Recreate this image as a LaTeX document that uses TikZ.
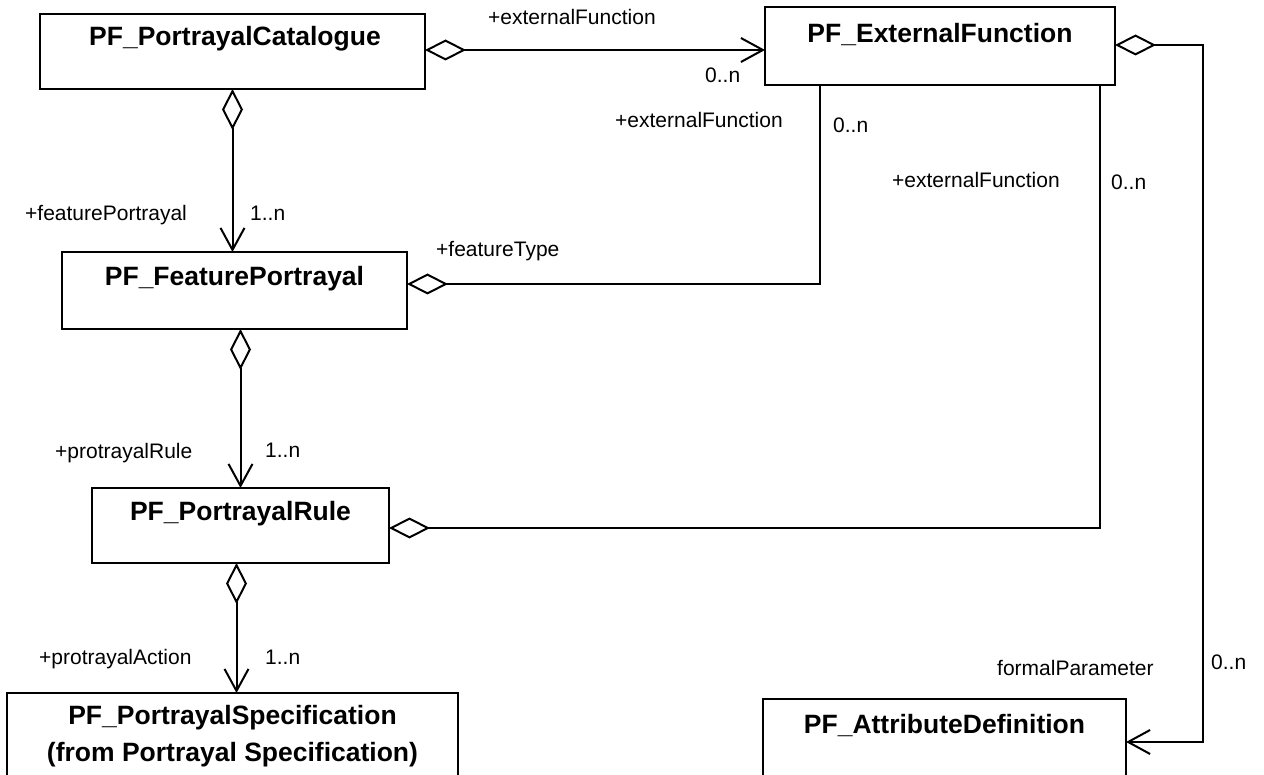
\documentclass[tikz,border=0pt]{standalone}
\usepackage{fontspec}
\setmainfont{Liberation Sans}
\usetikzlibrary{arrows.meta}
\begin{document}
\begin{tikzpicture}[x=1pt,y=-1pt,
  cls/.style={draw=black, line width=2.2pt, anchor=north west, inner sep=0pt, outer sep=0pt},
  ttl/.style={inner sep=0pt, text height=19pt, text depth=0pt, font=\bfseries\fontsize{26.5}{30}\selectfont},
  lbl/.style={inner sep=0pt, anchor=west, text height=15pt, text depth=0pt, font=\fontsize{21}{25}\selectfont},
  agg/.style={line width=2pt, {Diamond[open,fill=white,length=41pt,width=21pt]}-},
  assoc/.style={line width=2pt, {Diamond[open,fill=white,length=41pt,width=21pt]}-{Straight Barb[length=22pt,width=24pt]}}
]
\path[use as bounding box, fill=white] (0,0) rectangle (1264,775);
\clip (0,0) rectangle (1264,775);

% classes
\node[cls, minimum width=385pt, minimum height=75pt] (cat) at (40,14) {};
\node[cls, minimum width=350pt, minimum height=78pt] (ext) at (765,7) {};
\node[cls, minimum width=345pt, minimum height=77pt] (fp) at (62,252) {};
\node[cls, minimum width=297pt, minimum height=75pt] (pr) at (92,488) {};
\node[cls, minimum width=451pt, minimum height=120pt] (spec) at (7,693) {};
\node[cls, minimum width=363pt, minimum height=86pt] (attr) at (763,699) {};

% titles
\node[ttl] (cat-t) at (235,36) {PF\_PortrayalCatalogue};
\node[ttl] (ext-t) at (940,33) {PF\_ExternalFunction};
\node[ttl] (fp-t) at (234.5,276) {PF\_FeaturePortrayal};
\node[ttl] (pr-t) at (240.5,511) {PF\_PortrayalRule};
\node[ttl] (spec-t1) at (232.5,715) {PF\_PortrayalSpecification};
\node[ttl] (spec-t2) at (232.5,752) {(from Portrayal Specification)};
\node[ttl] (attr-t) at (944.5,724) {PF\_AttributeDefinition};

% connectors
\draw[assoc] ([yshift=1.5pt]cat.east) -- ([yshift=1.5pt]cat.east -| ext.west);
\draw[assoc] (cat.south) -- (cat.south |- fp.north);
\draw[agg] ([yshift=6.5pt]fp.east) -| ([xshift=-120pt]ext.south);
\draw[agg] ([yshift=-2.5pt]pr.east) -| ([xshift=160pt]ext.south);
\draw[assoc] (pr.north |- fp.south) -- (pr.north);
\draw[assoc] ([xshift=-4pt]pr.south) -- ([xshift=-4pt]pr.south |- spec.north);
\draw[assoc] ([yshift=1pt]ext.east) -- ++(88,0) |- (attr.east);

% labels
\node[lbl] (l1) at (488,17) {+externalFunction};
\node[lbl] (m1) at (705,75) {0..n};
\node[lbl] (l2) at (615,120) {+externalFunction};
\node[lbl] (m2) at (833,125) {0..n};
\node[lbl] (l3) at (892,180) {+externalFunction};
\node[lbl] (m3) at (1111,182) {0..n};
\node[lbl] (l4) at (25,213) {+featurePortrayal};
\node[lbl] (m4) at (250,213) {1..n};
\node[lbl] (l5) at (436,249) {+featureType};
\node[lbl] (l6) at (55,451) {+protrayalRule};
\node[lbl] (m6) at (265,450) {1..n};
\node[lbl] (l7) at (39,657) {+protrayalAction};
\node[lbl] (m7) at (265,657) {1..n};
\node[lbl] (l8) at (997,668) {formalParameter};
\node[lbl] (m8) at (1211,662) {0..n};
\end{tikzpicture}
\end{document}
